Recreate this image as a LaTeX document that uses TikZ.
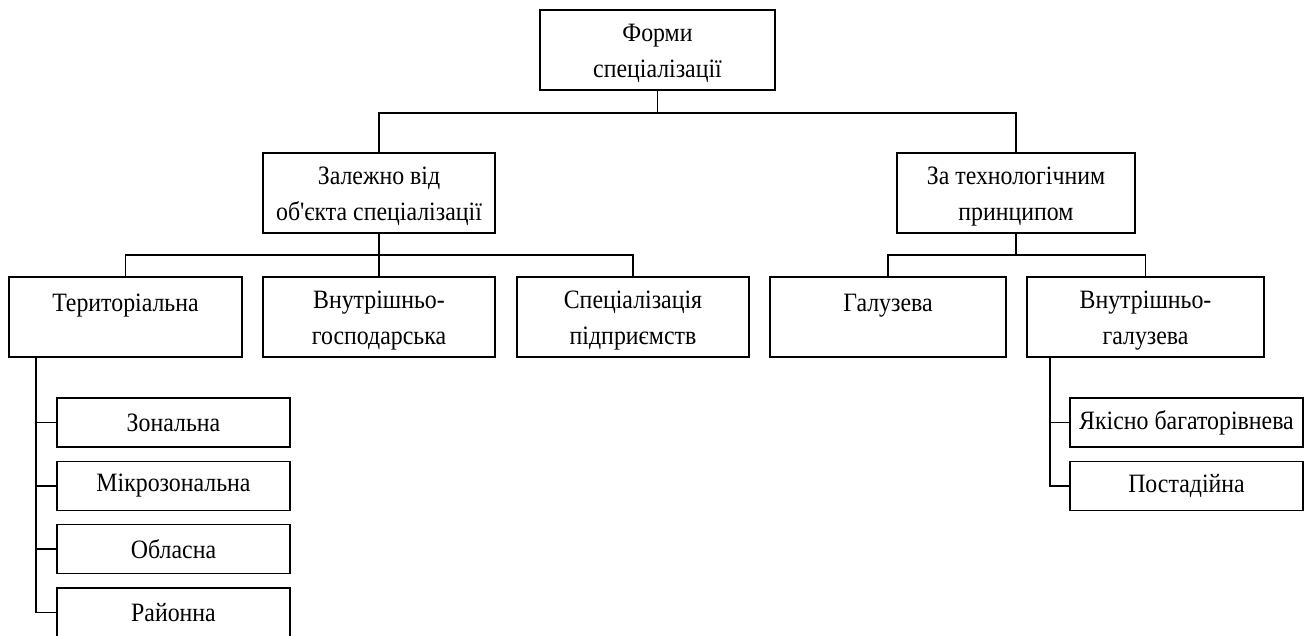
\documentclass[tikz,border=0pt]{standalone}
\usepackage{fontspec}
\setmainfont{Liberation Serif}[Ligatures=TeXOff,FakeStretch=0.9]
\begin{document}
\begin{tikzpicture}[x=1pt,y=-1pt,
  box/.style={draw,line width=1.6pt,inner sep=0pt},
  txt/.style={align=center,inner sep=0pt,yshift=-3.5pt,
    font=\fontsize{26.5}{35.5}\selectfont},
  big/.style={box,minimum height=80pt},
  small/.style={box,minimum width=233pt,minimum height=49pt,
    font=\fontsize{26.5}{35.5}\selectfont},
  link/.style={line width=1.6pt}]
\useasboundingbox (0,0) rectangle (1311,635);
% level 1
\node[big,minimum width=235pt,label={[txt,name=topt]center:{Форми\\спеціалізації}}] (top) at (657.5,50) {};
% level 2
\node[big,minimum width=232pt,label={[txt,name=objst]center:{Залежно від\\об'єкта спеціалізації}}] (objs) at (379,193) {};
\node[big,minimum width=238pt,label={[txt,name=techt]center:{За технологічним\\принципом}}] (tech) at (1016,193) {};
% level 3
\node[big,minimum width=233pt,label={[txt,name=terrt]center:{Територіальна\\\mbox{}}}] (terr) at (125.5,317) {};
\node[big,minimum width=232pt,label={[txt,name=vgospt]center:{Внутрішньо-\\господарська}}] (vgosp) at (379,317) {};
\node[big,minimum width=232pt,label={[txt,name=spect]center:{Спеціалізація\\підприємств}}] (spec) at (633,317) {};
\node[big,minimum width=236pt,label={[txt,name=galuzt]center:{Галузева\\\mbox{}}}] (galuz) at (888,317) {};
\node[big,minimum width=237pt,label={[txt,name=vgalt]center:{Внутрішньо-\\галузева}}] (vgal) at (1145.5,317) {};
% level 4 left
\node[small] (z1) at (173.5,422.5) {Зональна};
\node[small] (z2) at (173.5,486) {Мікрозональна};
\node[small] (z3) at (173.5,549) {Обласна};
\node[small] (z4) at (173.5,612.5) {Районна};
% level 4 right
\node[small] (p1) at (1186.5,422.5) {Якісно багаторівнева};
\node[small] (p2) at (1186.5,486) {Постадійна};
% connectors
\coordinate (j1) at (657.5,113);
\coordinate (j2) at (379,255);
\coordinate (j3) at (1016,255);
\draw[link] (top.south) -- (j1);
\draw[link] (objs.north) |- (j1) -| (tech.north);
\draw[link] (objs.south) -- (vgosp.north);
\draw[link] (terr.north) |- (j2) -| (spec.north);
\draw[link] (tech.south) -- (j3);
\draw[link] (galuz.north) |- (j3) -| (vgal.north);
\draw[link] (terr.south west) ++(28,0) coordinate (ts) |- (z4.west);
\draw[link] (z1.west) -- (z1.west -| ts);
\draw[link] (z2.west) -- (z2.west -| ts);
\draw[link] (z3.west) -- (z3.west -| ts);
\draw[link] (vgal.south west) ++(24,0) coordinate (vs) |- (p2.west);
\draw[link] (p1.west) -- (p1.west -| vs);
\end{tikzpicture}
\end{document}
